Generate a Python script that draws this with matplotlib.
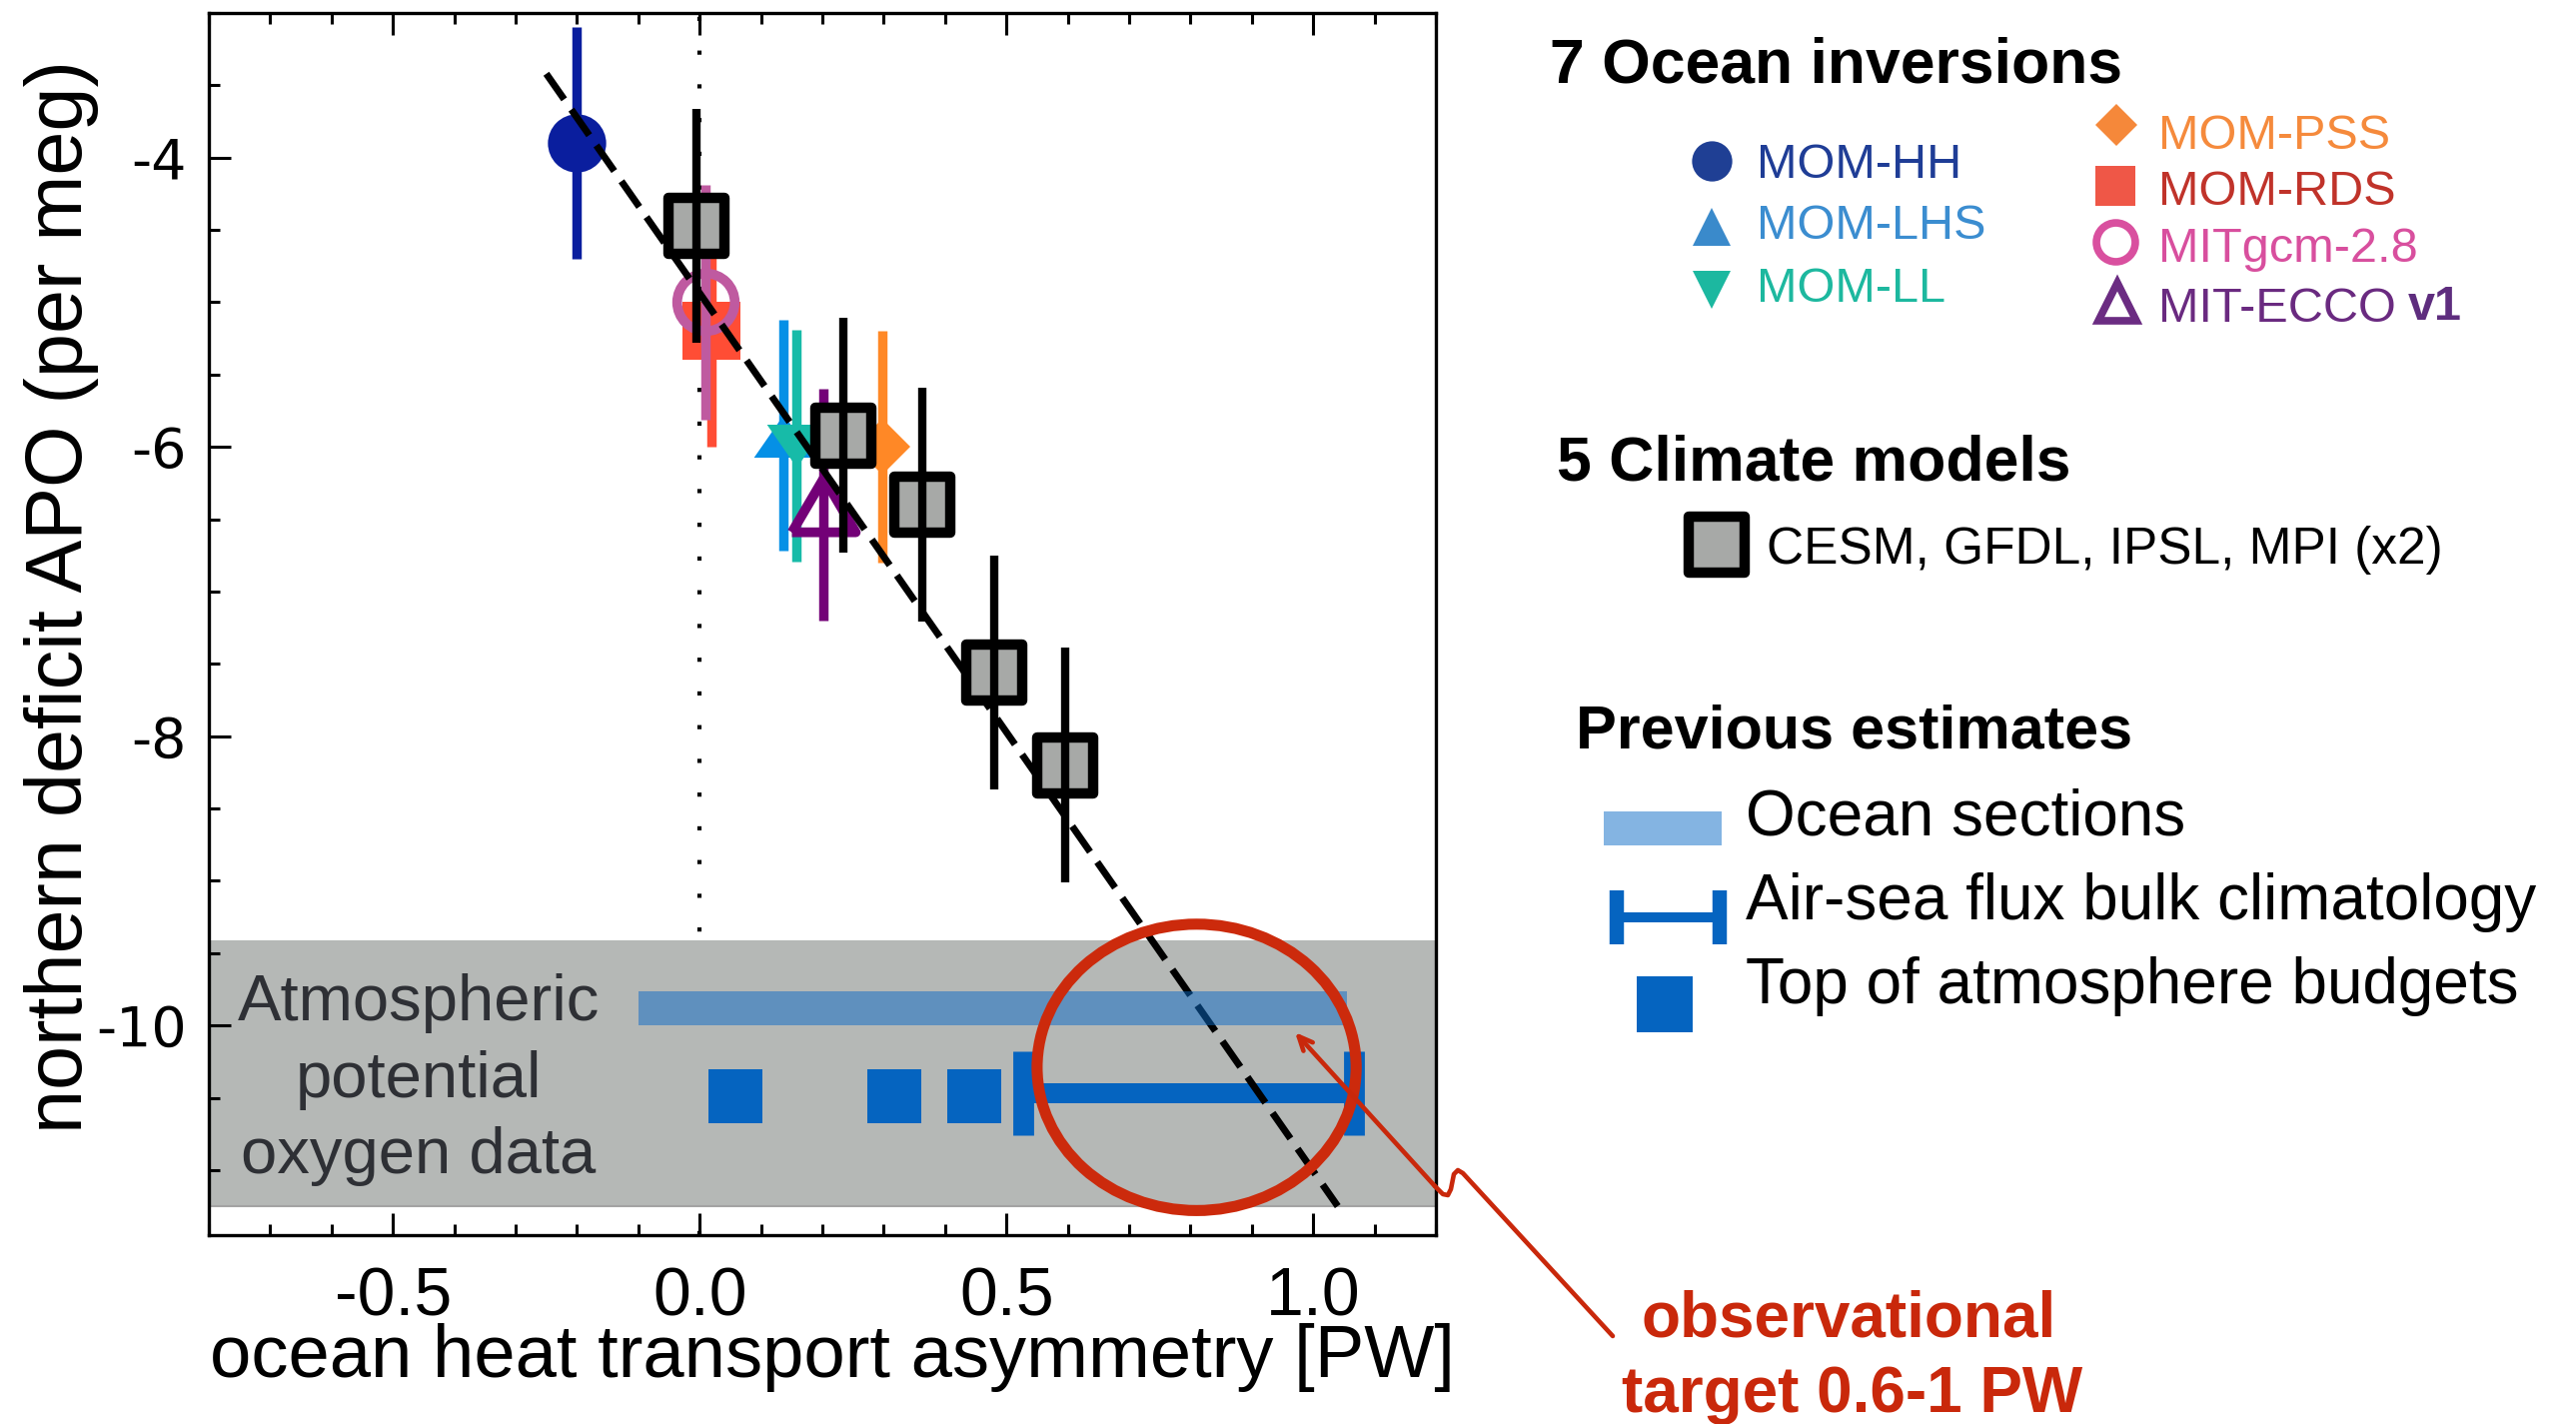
import numpy as np
import matplotlib
matplotlib.use('Agg')
import matplotlib.pyplot as plt
from matplotlib.patches import Ellipse, Rectangle
from matplotlib.markers import MarkerStyle
from matplotlib.ticker import MultipleLocator

plt.rcParams['font.family'] = ['Liberation Sans', 'DejaVu Sans']
plt.rcParams['axes.unicode_minus'] = False

# 7 ocean inversions (x = heat transport asymmetry PW, y = APO deficit per meg)
inv_names = ['MOM-HH', 'MOM-LHS', 'MOM-LL', 'MOM-PSS', 'MOM-RDS', 'MITgcm-2.8', 'MIT-ECCO']
inv_x = [-0.20, 0.136, 0.157, 0.298, 0.02, 0.01, 0.201]
inv_y = [-3.90, -5.92, -5.99, -6.00, -5.20, -5.00, -6.40]
inv_err = [0.80, 0.80, 0.80, 0.80, 0.80, 0.81, 0.80]

# 5 climate models
mod_x = [-0.005, 0.235, 0.363, 0.48, 0.595]
mod_y = [-4.47, -5.92, -6.40, -7.56, -8.20]
mod_err = [0.81, 0.81, 0.81, 0.81, 0.81]

# dashed fit line end points
fit_x = [-0.25, 1.04]
fit_y = [-3.42, -11.25]

# previous estimates
sections_x = [-0.10, 1.055]
sections_y = -9.885
airsea_x = [0.527, 1.066]
airsea_y = -10.47
toa_x = [0.058, 0.317, 0.448]
toa_y = -10.49
apo_band = [-11.25, -9.41]
target_x = 0.81
target_y = -10.29

# styles
tri_up = [(-1, -0.72), (1, -0.72), (0, 0.72), (-1, -0.72)]
tri_dn = [(-1, 0.72), (1, 0.72), (0, -0.72), (-1, 0.72)]
tri_open = [(-1, -0.85), (1, -0.85), (0, 0.85), (-1, -0.85)]
inv_marker = ['o', tri_up, tri_dn, 'D', 's', 'o', tri_open]
inv_filled = [True, True, True, True, True, False, False]
inv_color = ['#0a1e9e', '#0590e6', '#17bba8', '#ff8826', '#ff4d35', '#bf5aa0', '#730077']
inv_ms = [42, 43, 43, 29, 42, 41.5, 46]

leg_text_color = ['#1f3d96', '#3b8dd0', '#1db89f', '#f58a3c', '#c0332a', '#d84f9e', '#6a2a80']
leg_mark_color = ['#1f3f94', '#3a8acb', '#1cb8a0', '#f5883a', '#ef5747', '#d9509f', '#6b2c82']
leg_marker = ['o', '^', 'v', 'D', 's', 'o', '^']
leg_ms = [29, 28, 28, 21, 29.5, 28, 28]
leg_mark_xy = [(1713, 161), (1713, 227), (1713, 290), (2118, 125), (2117, 186), (2117, 242), (2119, 302)]
leg_text_xy = [(1758, 178), (1758, 239), (1758, 302), (2160, 149), (2160, 205), (2160, 262), (2160, 322)]

red = '#c9280b'
toa_blue = '#0564c0'
model_face = '#a7a9a7'

W, H = 2578, 1425
fig = plt.figure(figsize=(W / 100, H / 100), dpi=100)
ax = fig.add_axes([209 / W, 1 - 1236 / H, 1228 / W, 1223 / H])
ax.set_xlim(-0.8, 1.2)
ax.set_ylim(-11.45, -3.0)

# grey APO band and zero line
ax.axhspan(apo_band[0], apo_band[1], color='#b5b8b6', lw=0, zorder=1)
ax.axhline(apo_band[0], color='#a3a3a3', lw=1.5, zorder=1.1)
ax.axvline(0, color='black', lw=3, linestyle=(0, (1, 7.1)), zorder=0.5)

for txt, yb in zip(['Atmospheric', 'potential', 'oxygen data'], [-9.964, -10.494, -11.025]):
    ax.text(-0.458, yb, txt, ha='center', va='baseline', fontsize=47, color='#2e3035', zorder=1.5)

# previous estimates inside the band
ax.barh(sections_y, sections_x[1] - sections_x[0], left=sections_x[0], height=0.235,
        color='#0b6ac6', alpha=0.5, lw=0, zorder=4.8)
ax.errorbar(np.mean(airsea_x), airsea_y, xerr=(airsea_x[1] - airsea_x[0]) / 2, fmt='none',
            ecolor=toa_blue, elinewidth=14.4, capsize=30, capthick=15, zorder=2)
ax.plot(toa_x, [toa_y] * len(toa_x), 's', ms=39, color=toa_blue, mew=0, zorder=2, ls='none')

# ocean inversions
for i in range(len(inv_names)):
    z = 3 + 0.1 * i
    if inv_filled[i]:
        ax.plot(inv_x[i], inv_y[i], marker=inv_marker[i], ms=inv_ms[i], color=inv_color[i],
                mew=0, zorder=z, ls='none')
    else:
        ax.plot(inv_x[i], inv_y[i], marker=inv_marker[i], ms=inv_ms[i], mfc='none',
                mec=inv_color[i], mew=7, zorder=z, ls='none')
    ax.vlines(inv_x[i], inv_y[i] - inv_err[i], inv_y[i] + inv_err[i], color=inv_color[i],
              lw=6.8, zorder=z + 0.05, capstyle='butt')

# fit line
ax.plot(fit_x, fit_y, color='black', lw=5, linestyle=(0, (4.5, 1.8)), zorder=4.5)

# climate models
sq = MarkerStyle('s', joinstyle='round')
ax.plot(mod_x, mod_y, ls='none', marker=sq, ms=40, mfc=model_face, mec='black', mew=7.5, zorder=5)
ax.vlines(mod_x, np.array(mod_y) - np.array(mod_err), np.array(mod_y) + np.array(mod_err),
          color='black', lw=6, zorder=5.5, capstyle='butt')

# observational target
ax.add_patch(Ellipse((target_x, target_y), 0.52, 1.98, fill=False, ec='#cc2a0c', lw=8, zorder=7))

# axes styling
for s in ax.spines.values():
    s.set_linewidth(2.4)
ax.xaxis.set_major_locator(MultipleLocator(0.5))
ax.xaxis.set_minor_locator(MultipleLocator(0.1))
ax.yaxis.set_major_locator(MultipleLocator(2))
ax.yaxis.set_minor_locator(MultipleLocator(0.5))
ax.xaxis.set_major_formatter(matplotlib.ticker.FormatStrFormatter('%.1f'))
ax.tick_params(which='both', direction='in', top=True, right=False, width=2.2)
ax.tick_params(which='major', length=16)
ax.tick_params(which='minor', length=8)
ax.tick_params(axis='x', labelsize=49, pad=22)
ax.tick_params(axis='y', labelsize=40, pad=16)
for lab in ax.get_yticklabels():
    lab.set_fontfamily('DejaVu Sans')

ax.set_xlabel('ocean heat transport asymmetry [PW]', fontsize=53.5, va='baseline')
ax.xaxis.set_label_coords(0.508, -0.1165)
ax.set_ylabel('northern deficit APO (per meg)', fontsize=57, va='baseline')
ax.yaxis.set_label_coords(-0.1034, 0.5225)

# overlay in pixel coordinates for legend and note
ov = fig.add_axes([0, 0, 1, 1])
ov.set_xlim(0, W)
ov.set_ylim(H, 0)
ov.axis('off')
ov.patch.set_alpha(0)
ov.set_zorder(10)

ov.text(1551, 82, '7 Ocean inversions', fontsize=45, fontweight='bold', va='baseline')
for i in range(len(inv_names)):
    mx, my = leg_mark_xy[i]
    if inv_filled[i]:
        ov.plot(mx, my, marker=leg_marker[i], ms=leg_ms[i], color=leg_mark_color[i], mew=0)
    else:
        ov.plot(mx, my, marker=leg_marker[i], ms=leg_ms[i], mfc='none',
                mec=leg_mark_color[i], mew=5.5)
    tx, ty = leg_text_xy[i]
    ov.text(tx, ty, inv_names[i], fontsize=35, color=leg_text_color[i], va='baseline')
ov.text(2410, 320, 'v1', fontsize=35, fontweight='bold', color='#5e2d7e', va='baseline')

ov.text(1558, 480, '5 Climate models', fontsize=45, fontweight='bold', va='baseline')
ov.plot(1718, 545, marker=sq, ms=40, mfc=model_face, mec='black', mew=7.5)
ov.text(1768, 564, 'CESM, GFDL, IPSL, MPI (x2)', fontsize=37, va='baseline')

ov.text(1577, 748, 'Previous estimates', fontsize=44, fontweight='bold', va='baseline')
ov.add_patch(Rectangle((1605, 812), 118, 34, color='#0b6ac6', alpha=0.5, lw=0))
ov.errorbar(1669.5, 917.5, xerr=51.3, fmt='none', ecolor=toa_blue, elinewidth=7.2,
            capsize=19.3, capthick=10.4)
ov.plot(1666, 1005, 's', ms=40, color=toa_blue, mew=0)
ov.text(1747, 835, 'Ocean sections', fontsize=46, va='baseline')
ov.text(1747, 920, 'Air-sea flux bulk climatology', fontsize=46, va='baseline')
ov.text(1747, 1004, 'Top of atmosphere budgets', fontsize=46, va='baseline')

# note with squiggly arrow
path_x = [1614, 1464, 1459, 1455, 1452, 1449, 1444, 1436]
path_y = [1337, 1174, 1171, 1175, 1190, 1196, 1195, 1187]
ov.plot(path_x, path_y, color=red, lw=3.3, solid_joinstyle='round', solid_capstyle='round')
ov.annotate('', xy=(1296, 1033), xytext=(1436, 1187),
            arrowprops=dict(arrowstyle='->,head_length=1.0,head_width=0.45', color=red, lw=3.3,
                            shrinkA=0, shrinkB=0))
ov.text(1850, 1337, 'observational', fontsize=46, fontweight='bold', color=red,
        ha='center', va='baseline')
ov.text(1854, 1413, 'target 0.6-1 PW', fontsize=46, fontweight='bold', color=red,
        ha='center', va='baseline')

fig.savefig('out.png', dpi=100)
